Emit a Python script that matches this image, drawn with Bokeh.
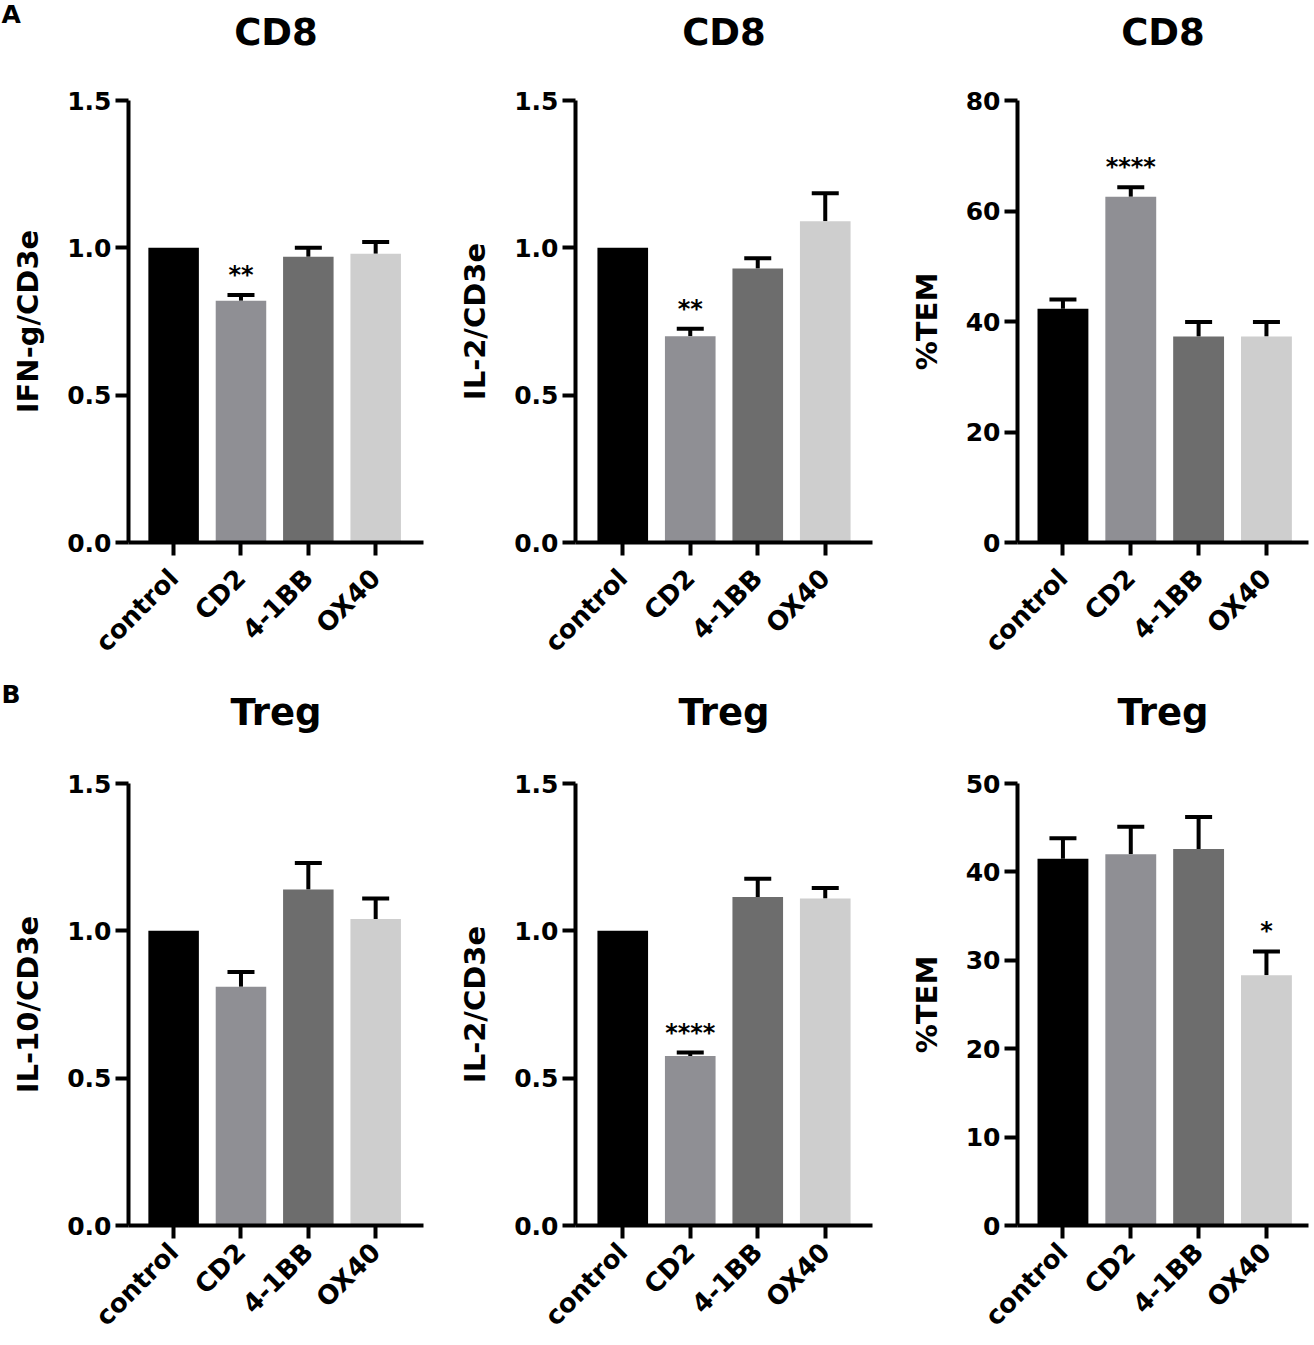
import math
from bokeh.plotting import figure
from bokeh.models import (Range1d, FixedTicker, NumeralTickFormatter, Title, LinearAxis,
                          ColumnDataSource, Whisker, TeeHead)
from bokeh.layouts import column, row
from bokeh.embed import file_html
from bokeh.resources import INLINE

# ---------------- data ----------------
categories = ["control", "CD2", "4-1BB", "OX40"]
bar_colors = ["#000000", "#8f8f94", "#6d6d6d", "#cecece"]

cd8_ifng = [1.00, 0.82, 0.97, 0.98]
cd8_ifng_err = [0.0, 0.02, 0.03, 0.04]
cd8_ifng_sig = ["", "**", "", ""]

cd8_il2 = [1.00, 0.70, 0.93, 1.09]
cd8_il2_err = [0.0, 0.025, 0.035, 0.095]
cd8_il2_sig = ["", "**", "", ""]

cd8_tem = [42.3, 62.6, 37.3, 37.3]
cd8_tem_err = [1.7, 1.7, 2.6, 2.6]
cd8_tem_sig = ["", "****", "", ""]

treg_il10 = [1.00, 0.81, 1.14, 1.04]
treg_il10_err = [0.0, 0.05, 0.09, 0.07]
treg_il10_sig = ["", "", "", ""]

treg_il2 = [1.00, 0.575, 1.115, 1.11]
treg_il2_err = [0.0, 0.012, 0.062, 0.035]
treg_il2_sig = ["", "****", "", ""]

treg_tem = [41.5, 42.0, 42.6, 28.3]
treg_tem_err = [2.3, 3.1, 3.6, 2.7]
treg_tem_sig = ["", "", "", "*"]

ratio_ticks = [0, 0.5, 1.0, 1.5]
tem_ticks_cd8 = [0, 20, 40, 60, 80]
tem_ticks_treg = [0, 10, 20, 30, 40, 50]

FONT = "DejaVu Sans"


def make_panel(title, ylabel, vals, errs, sig, yticks, fmt, width, height,
               bl, br, bt, bb, xs, xe, title_gap, cat_standoff,
               letter=None, letter_standoff=0):
    p = figure(width=width, height=height, output_backend="svg",
               toolbar_location=None, title=None,
               x_range=Range1d(xs, xe), y_range=Range1d(yticks[0], yticks[-1]),
               min_border_left=bl, min_border_right=br,
               min_border_top=bt, min_border_bottom=bb)
    frame_h = height - bt - bb
    ppu = frame_h / (yticks[-1] - yticks[0])

    p.xgrid.visible = False
    p.ygrid.visible = False
    p.outline_line_color = None
    p.background_fill_color = "white"

    pos = list(range(len(categories)))
    src = ColumnDataSource(dict(x=pos, top=vals, color=bar_colors))
    p.vbar(x="x", top="top", bottom=0, width=0.75, fill_color="color",
           line_color=None, source=src)

    ex = [i for i, e in zip(pos, errs) if e > 0]
    ev = [v for v, e in zip(vals, errs) if e > 0]
    eu = [v + e for v, e in zip(vals, errs) if e > 0]
    esrc = ColumnDataSource(dict(base=ex, lower=ev, upper=eu))
    wh = Whisker(base="base", lower="lower", upper="upper", source=esrc,
                 line_width=4, line_color="black",
                 upper_head=TeeHead(size=27, line_width=4, line_color="black"),
                 lower_head=None)
    p.add_layout(wh)

    sx = [i for i, s in zip(pos, sig) if s]
    sy = [v + e + 20.0 / ppu for v, e, s in zip(vals, errs, sig) if s]
    st = [s for s in sig if s]
    if st:
        p.text(x=sx, y=sy, text=st, text_align="center",
               text_baseline="alphabetic",
               text_font_size="24px", text_font_style="bold",
               text_color="black", text_font={"value": FONT})

    for ax in (p.xaxis[0], p.yaxis[0]):
        ax.axis_line_width = 4
        ax.axis_line_color = "black"
        ax.major_tick_line_width = 4
        ax.major_tick_line_color = "black"
        ax.major_tick_in = 0
        ax.major_tick_out = 13
        ax.minor_tick_line_color = None
        ax.major_label_text_font = FONT
        ax.major_label_text_font_style = "bold"
        ax.major_label_text_color = "black"

    p.xaxis.ticker = FixedTicker(ticks=pos)
    p.xaxis.major_label_overrides = {i: c for i, c in enumerate(categories)}
    p.xaxis.major_label_orientation = math.pi / 4
    p.xaxis.major_label_text_font_size = "26px"
    p.xaxis.major_label_standoff = cat_standoff

    p.yaxis.ticker = FixedTicker(ticks=yticks)
    p.yaxis.formatter = NumeralTickFormatter(format=fmt)
    p.yaxis.major_label_text_font_size = "25px"
    p.yaxis.major_label_standoff = 4
    p.yaxis.axis_label = ylabel
    p.yaxis.axis_label_text_font = FONT
    p.yaxis.axis_label_text_font_style = "bold"
    p.yaxis.axis_label_text_font_size = "29px"
    p.yaxis.axis_label_text_color = "black"
    p.yaxis.axis_label_standoff = 19

    # panel heading: label of an empty, invisible axis above the frame
    head = LinearAxis(ticker=FixedTicker(ticks=[]), axis_line_color=None,
                      major_tick_line_color=None, minor_tick_line_color=None,
                      major_tick_in=0, major_tick_out=0, minor_tick_out=0,
                      major_label_standoff=0,
                      axis_label=title, axis_label_standoff=title_gap,
                      axis_label_text_font=FONT, axis_label_text_font_style="bold",
                      axis_label_text_font_size="37px", axis_label_text_color="black")
    p.add_layout(head, "above")

    if letter:
        p.add_layout(Title(text=letter, align="left", vertical_align="bottom",
                           offset=-bl + 1, standoff=letter_standoff,
                           text_font=FONT, text_font_style="bold",
                           text_font_size="25px", text_color="black"), "above")
    return p


HA, HB = 680, 665
p1 = make_panel("CD8", "IFN-g/CD3e", cd8_ifng, cd8_ifng_err, cd8_ifng_sig,
                ratio_ticks, "0.0", 445, HA, 128, 22, 100, 138, -0.67, 3.71, 47, 18,
                letter="A", letter_standoff=-42)
p2 = make_panel("CD8", "IL-2/CD3e", cd8_il2, cd8_il2_err, cd8_il2_sig,
                ratio_ticks, "0.0", 437, HA, 130, 10, 100, 138, -0.70, 3.70, 47, 18)
p3 = make_panel("CD8", "%TEM", cd8_tem, cd8_tem_err, cd8_tem_sig,
                tem_ticks_cd8, "0", 432, HA, 135, 6, 100, 138, -0.67, 3.62, 47, 18)
p4 = make_panel("Treg", "IL-10/CD3e", treg_il10, treg_il10_err, treg_il10_sig,
                ratio_ticks, "0.0", 445, HB, 128, 22, 103, 120, -0.67, 3.71, 50, 9,
                letter="B", letter_standoff=-42)
p5 = make_panel("Treg", "IL-2/CD3e", treg_il2, treg_il2_err, treg_il2_sig,
                ratio_ticks, "0.0", 437, HB, 130, 10, 103, 120, -0.70, 3.70, 50, 9)
p6 = make_panel("Treg", "%TEM", treg_tem, treg_tem_err, treg_tem_sig,
                tem_ticks_treg, "0", 432, HB, 135, 6, 103, 120, -0.67, 3.62, 50, 9)

layout = column(row(p1, p2, p3), row(p4, p5, p6))
open("out.html", "w").write(file_html(layout, INLINE))
